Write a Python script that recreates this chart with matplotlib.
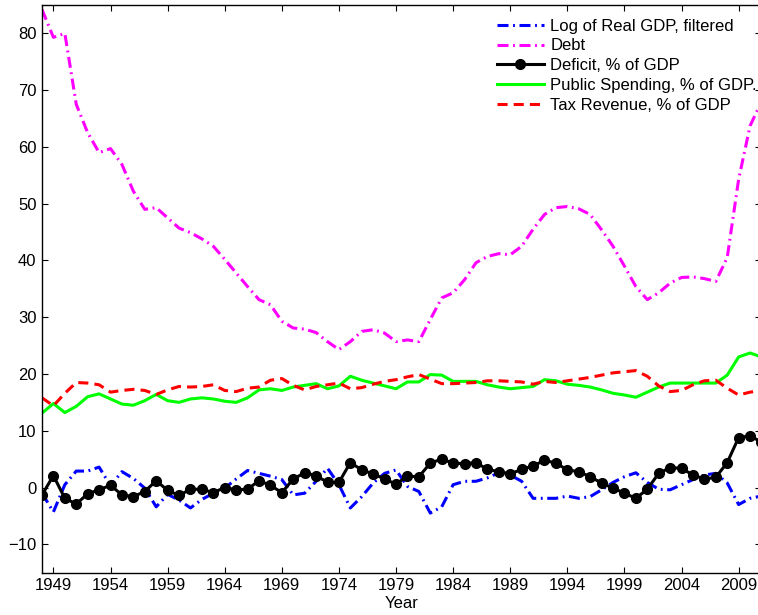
import numpy as np
import matplotlib
matplotlib.use("Agg")
import matplotlib.pyplot as plt

plt.rcParams['font.family'] = ['Liberation Sans', 'DejaVu Sans']
plt.rcParams['font.size'] = 12

years = np.arange(1948, 2012)

gdp_filtered = [-1.0, -4.3, 0.5, 2.9, 2.9, 3.6, 0.3, 2.8, 1.6, -0.1,
                -3.4, -1.2, -2.2, -3.6, -2.1, -1.0, -0.1, 1.5, 3.0, 2.5,
                2.0, 1.4, -1.3, -1.0, 1.1, 3.4, 0.5, -3.6, -1.6, 0.8,
                2.5, 3.1, 0.2, -0.7, -4.5, -3.4, 0.5, 1.1, 1.1, 1.7,
                2.6, 2.2, 1.1, -1.9, -1.9, -1.9, -1.5, -1.9, -1.6, -0.4,
                0.9, 1.9, 2.6, 0.9, -0.3, -0.4, 0.5, 1.4, 2.2, 2.5,
                0.8, -3.0, -1.9, -1.5]

debt = [84.2, 79.3, 80.0, 67.5, 62.5, 59.0, 59.7, 56.9, 52.2, 49.0,
        49.3, 47.5, 45.7, 44.9, 43.8, 42.5, 40.2, 37.8, 35.4, 33.1,
        32.2, 29.3, 28.1, 27.9, 27.3, 25.7, 24.3, 25.7, 27.5, 27.8,
        27.2, 25.7, 26.0, 25.7, 29.6, 33.4, 34.3, 36.6, 39.6, 40.7,
        41.2, 41.0, 42.5, 45.5, 48.1, 49.3, 49.5, 49.1, 48.1, 45.4,
        42.5, 39.0, 35.4, 33.1, 34.3, 36.0, 37.0, 37.1, 36.8, 36.3,
        40.5, 54.3, 63.7, 68.0]

deficit = [-1.3, 2.1, -1.9, -2.9, -1.1, -0.4, 0.4, -1.3, -1.6, -0.7,
           1.2, -0.5, -1.4, -0.3, -0.3, -0.9, 0.0, -0.4, -0.3, 1.2,
           0.4, -0.9, 1.5, 2.6, 2.1, 0.9, 0.9, 4.4, 3.1, 2.4,
           1.5, 0.6, 2.0, 1.9, 4.3, 5.0, 4.3, 4.2, 4.4, 3.2,
           2.8, 2.4, 3.2, 3.8, 4.8, 4.3, 3.1, 2.8, 1.9, 0.8,
           -0.1, -1.0, -1.9, -0.3, 2.5, 3.5, 3.4, 2.2, 1.5, 1.8,
           4.4, 8.8, 9.1, 8.0]

spending = [13.1, 14.8, 13.2, 14.3, 16.0, 16.5, 15.6, 14.7, 14.5, 15.3,
            16.4, 15.3, 15.0, 15.6, 15.8, 15.6, 15.2, 15.0, 15.8, 17.2,
            17.4, 17.1, 17.7, 18.0, 18.3, 17.4, 17.9, 19.6, 18.9, 18.4,
            17.9, 17.4, 18.6, 18.6, 19.9, 19.8, 18.7, 18.7, 18.7, 18.1,
            17.7, 17.4, 17.6, 17.8, 19.0, 18.8, 18.2, 18.0, 17.7, 17.2,
            16.6, 16.3, 15.9, 16.8, 17.7, 18.4, 18.4, 18.4, 18.4, 18.4,
            19.8, 23.0, 23.7, 23.0]

tax = [15.8, 14.4, 16.6, 18.5, 18.4, 18.1, 16.8, 17.1, 17.3, 17.1,
       16.4, 17.2, 17.8, 17.7, 17.8, 18.1, 17.1, 16.9, 17.5, 17.7,
       18.9, 19.2, 18.0, 17.2, 17.8, 18.1, 18.4, 17.4, 17.6, 18.2,
       18.7, 19.0, 19.5, 19.9, 19.1, 18.3, 18.3, 18.4, 18.5, 18.8,
       18.8, 18.7, 18.6, 18.2, 18.7, 18.5, 18.8, 19.1, 19.4, 19.8,
       20.2, 20.4, 20.6, 19.6, 17.9, 16.9, 17.1, 18.1, 18.8, 18.9,
       17.5, 16.3, 16.8, 17.1]

fig = plt.figure(figsize=(7.58, 6.15), dpi=100)
ax = fig.add_axes([0.0554, 0.0688, 0.9492, 0.9231])

lw = 2.2
dashdot = (0, (3.6, 1.5, 0.6, 1.5))
dashed = (0, (3.3, 2.0))

ax.plot(years, gdp_filtered, color='#0000ff', lw=lw, ls=dashdot,
        label='Log of Real GDP, filtered')
ax.plot(years, debt, color='#ff00ff', lw=lw, ls=dashdot, label='Debt')
ax.plot(years, deficit, color='black', lw=lw, marker='o', ms=7,
        label='Deficit, % of GDP')
ax.plot(years, spending, color='#00ff00', lw=lw,
        label='Public Spending, % of GDP.')
ax.plot(years, tax, color='#ff0000', lw=lw, ls=dashed,
        label='Tax Revenue, % of GDP')

ax.set_xlim(1948, 2011)
ax.set_ylim(-15, 85)
ax.set_xticks(np.arange(1949, 2010, 5))
ax.set_yticks(np.arange(-10, 81, 10))
ax.tick_params(direction='in', length=4.5, width=0.8, top=True, right=True,
               labelsize=12, pad=4)
for s in ax.spines.values():
    s.set_linewidth(1.0)

ax.set_xlabel('Year', fontsize=12, labelpad=2)

ax.legend(loc='upper left', bbox_to_anchor=(0.632, 0.976), frameon=False,
          borderpad=0, borderaxespad=0, handlelength=2.82,
          handletextpad=0.4, labelspacing=0.29, fontsize=12)

fig.savefig('out.png', dpi=100)
